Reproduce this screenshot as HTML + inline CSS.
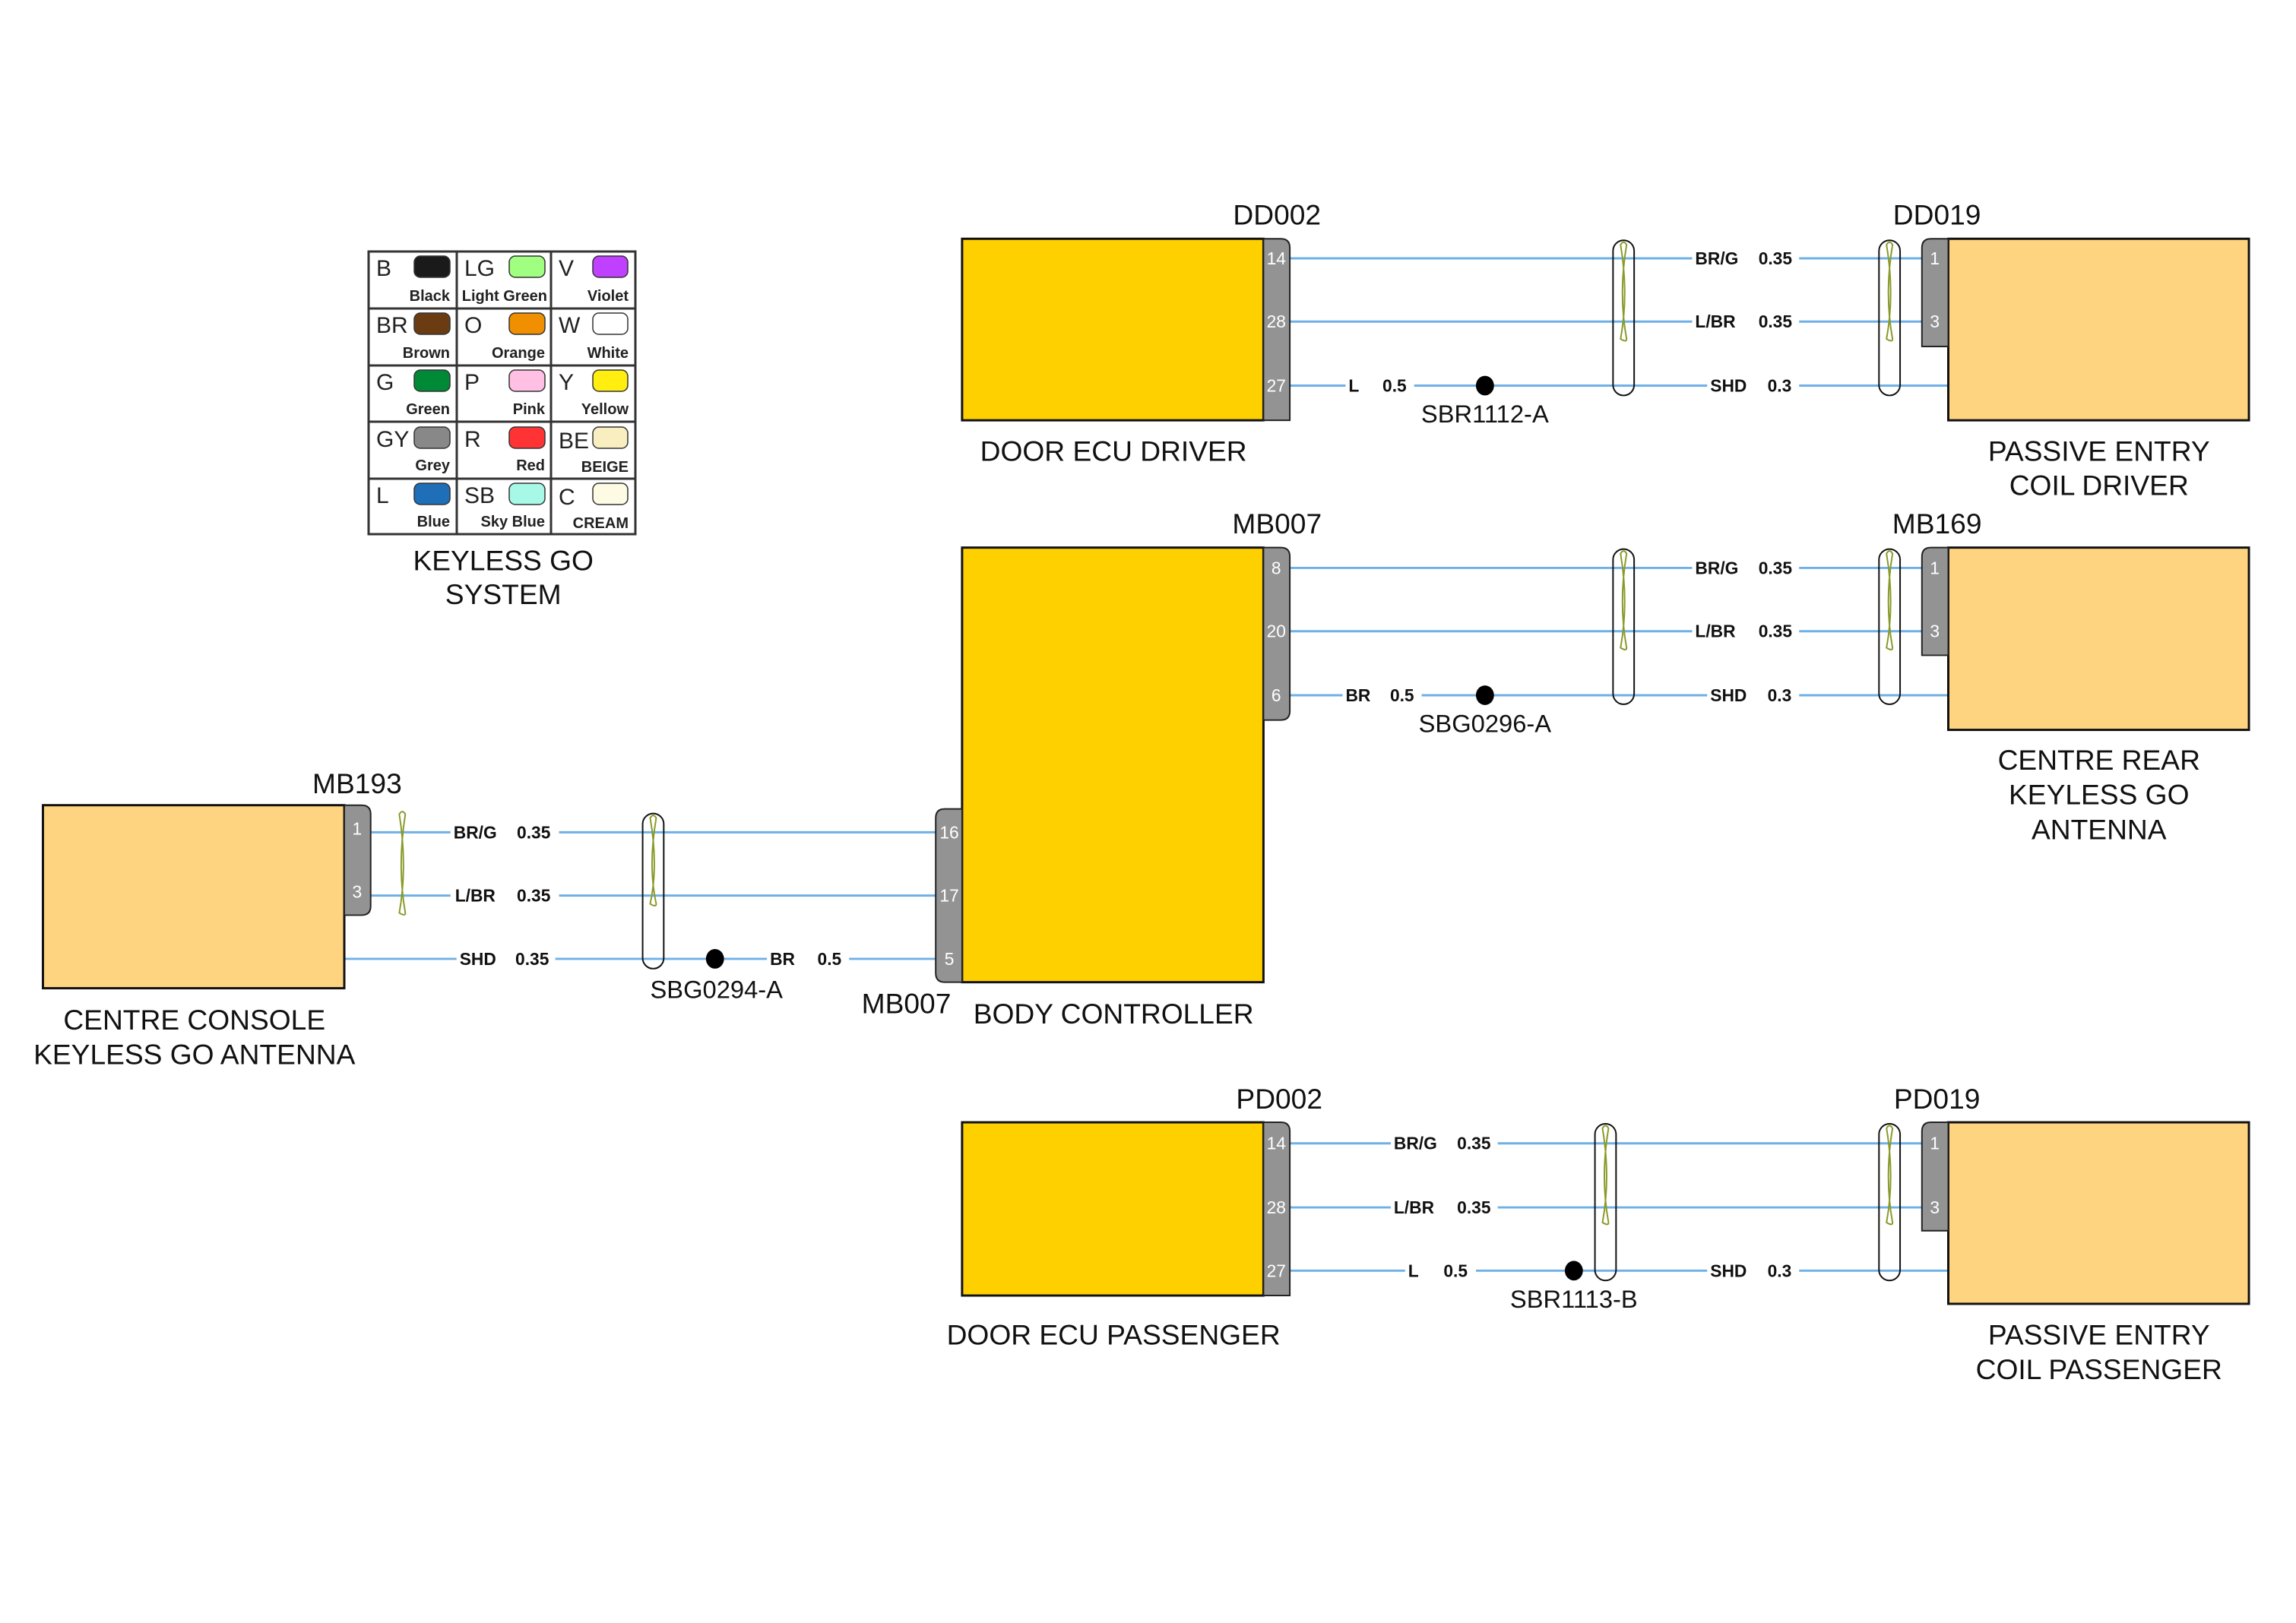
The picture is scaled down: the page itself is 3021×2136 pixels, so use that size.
<!DOCTYPE html>
<html><head><meta charset="utf-8"><style>
html,body{margin:0;padding:0;background:#fff}
svg{display:block}
text{font-family:"Liberation Sans",sans-serif}
.big{font-size:37.5px;fill:#111}
.pin{font-size:23px;fill:#fff}
.wl{font-size:23px;font-weight:bold;fill:#111}
.code{font-size:30px;fill:#222}
.nm{font-size:20px;font-weight:bold;fill:#222}
</style></head><body>
<svg width="3021" height="2136" viewBox="0 0 3021 2136" xmlns="http://www.w3.org/2000/svg">
<!-- Legend (unscaled) -->
<g transform="translate(2,2)">
<g stroke="#333" stroke-width="3" fill="none">
<rect x="483" y="329" width="351" height="372"/>
<line x1="599" y1="329" x2="599" y2="701"/><line x1="723" y1="329" x2="723" y2="701"/>
<line x1="483" y1="404" x2="834" y2="404"/><line x1="483" y1="479" x2="834" y2="479"/>
<line x1="483" y1="553" x2="834" y2="553"/><line x1="483" y1="628" x2="834" y2="628"/>
</g>
<g stroke="#333" stroke-width="1.5">
<rect x="543" y="335" width="47" height="28" rx="8" fill="#1a1a1a"/>
<rect x="668" y="335" width="47" height="28" rx="8" fill="#a0ff80"/>
<rect x="778" y="335" width="46" height="28" rx="8" fill="#c040ff"/>
<rect x="543" y="410" width="47" height="28" rx="8" fill="#6b3c12"/>
<rect x="668" y="410" width="47" height="28" rx="8" fill="#f09000"/>
<rect x="778" y="410" width="46" height="28" rx="8" fill="#fff"/>
<rect x="543" y="485" width="47" height="28" rx="8" fill="#008a38"/>
<rect x="668" y="485" width="47" height="28" rx="8" fill="#ffc0e4"/>
<rect x="778" y="485" width="46" height="28" rx="8" fill="#ffee10"/>
<rect x="543" y="560" width="47" height="28" rx="8" fill="#888"/>
<rect x="668" y="560" width="47" height="28" rx="8" fill="#ff3333"/>
<rect x="778" y="560" width="46" height="28" rx="8" fill="#f8eec0"/>
<rect x="543" y="634" width="47" height="28" rx="8" fill="#1e6eb8"/>
<rect x="668" y="634" width="47" height="28" rx="8" fill="#a8f8e8"/>
<rect x="778" y="634" width="46" height="28" rx="8" fill="#fdfbe4"/>
</g>
<g class="code">
<text x="493" y="361" class="code">B</text><text x="609" y="361" class="code">LG</text><text x="733" y="361" class="code">V</text>
<text x="493" y="436" class="code">BR</text><text x="609" y="436" class="code">O</text><text x="733" y="436" class="code">W</text>
<text x="493" y="511" class="code">G</text><text x="609" y="511" class="code">P</text><text x="733" y="511" class="code">Y</text>
<text x="493" y="586" class="code">GY</text><text x="609" y="586" class="code">R</text><text x="733" y="588" class="code">BE</text>
<text x="493" y="660" class="code">L</text><text x="609" y="660" class="code">SB</text><text x="733" y="662" class="code">C</text>
</g>
<g text-anchor="end">
<text x="590" y="394" class="nm">Black</text><text x="718" y="394" class="nm">Light Green</text><text x="825" y="394" class="nm">Violet</text>
<text x="590" y="469" class="nm">Brown</text><text x="715" y="469" class="nm">Orange</text><text x="825" y="469" class="nm">White</text>
<text x="590" y="543" class="nm">Green</text><text x="715" y="543" class="nm">Pink</text><text x="825" y="543" class="nm">Yellow</text>
<text x="590" y="617" class="nm">Grey</text><text x="715" y="617" class="nm">Red</text><text x="825" y="619" class="nm">BEIGE</text>
<text x="590" y="691" class="nm">Blue</text><text x="715" y="691" class="nm">Sky Blue</text><text x="825" y="693" class="nm">CREAM</text>
</g>
</g>
<g transform="scale(0.9913)">
<g text-anchor="middle" class="big">
<text x="668" y="757" class="big">KEYLESS GO</text><text x="668" y="802" class="big">SYSTEM</text>
</g>

<!-- Wires -->
<g stroke="#6fb0e6" stroke-width="3">
<line x1="1712" y1="343" x2="2551" y2="343"/><line x1="1712" y1="427" x2="2551" y2="427"/><line x1="1712" y1="512" x2="2586" y2="512"/>
<line x1="1712" y1="754" x2="2551" y2="754"/><line x1="1712" y1="838" x2="2551" y2="838"/><line x1="1712" y1="923" x2="2586" y2="923"/>
<line x1="492" y1="1105" x2="1242" y2="1105"/><line x1="492" y1="1189" x2="1242" y2="1189"/><line x1="457" y1="1273" x2="1242" y2="1273"/>
<line x1="1712" y1="1518" x2="2551" y2="1518"/><line x1="1712" y1="1603" x2="2551" y2="1603"/><line x1="1712" y1="1687" x2="2586" y2="1687"/>
</g>

<!-- Boxes -->
<g stroke="#111" stroke-width="3">
<rect x="1277" y="317" width="400" height="241" fill="#ffd000"/>
<rect x="1277" y="727" width="400" height="577" fill="#ffd000"/>
<rect x="1277" y="1490" width="400" height="230" fill="#ffd000"/>
<rect x="2586" y="317" width="399" height="241" fill="#ffd480"/>
<rect x="2586" y="727" width="399" height="242" fill="#ffd480"/>
<rect x="2586" y="1490" width="399" height="241" fill="#ffd480"/>
<rect x="57" y="1069" width="400" height="243" fill="#ffd480"/>
</g>
<!-- Connectors -->
<g fill="#939393" stroke="#222" stroke-width="2">
<path d="M1677 317 H1700 Q1712 317 1712 329 V558 H1677 Z"/>
<path d="M1677 727 H1700 Q1712 727 1712 739 V944 Q1712 956 1700 956 H1677 Z"/>
<path d="M1677 1490 H1700 Q1712 1490 1712 1502 V1720 H1677 Z"/>
<path d="M1277 1074 H1254 Q1242 1074 1242 1086 V1292 Q1242 1304 1254 1304 H1277 Z"/>
<path d="M2586 317 H2563 Q2551 317 2551 329 V460 H2586 Z"/>
<path d="M2586 727 H2563 Q2551 727 2551 739 V870 H2586 Z"/>
<path d="M2586 1490 H2563 Q2551 1490 2551 1502 V1634 H2586 Z"/>
<path d="M457 1069 H480 Q492 1069 492 1081 V1203 Q492 1215 480 1215 H457 Z"/>
</g>
<g class="pin" text-anchor="middle">
<text x="1694" y="351" class="pin">14</text><text x="1694" y="435" class="pin">28</text><text x="1694" y="520" class="pin">27</text>
<text x="1694" y="762" class="pin">8</text><text x="1694" y="846" class="pin">20</text><text x="1694" y="931" class="pin">6</text>
<text x="1694" y="1526" class="pin">14</text><text x="1694" y="1611" class="pin">28</text><text x="1694" y="1695" class="pin">27</text>
<text x="1260" y="1113" class="pin">16</text><text x="1260" y="1197" class="pin">17</text><text x="1260" y="1281" class="pin">5</text>
<text x="2568" y="351" class="pin">1</text><text x="2568" y="435" class="pin">3</text>
<text x="2568" y="762" class="pin">1</text><text x="2568" y="846" class="pin">3</text>
<text x="2568" y="1526" class="pin">1</text><text x="2568" y="1611" class="pin">3</text>
<text x="474" y="1108" class="pin">1</text><text x="474" y="1192" class="pin">3</text>
</g>

<!-- Shields -->
<g fill="none" stroke="#111" stroke-width="2">
<rect x="2141" y="319" width="28" height="206" rx="14"/>
<rect x="2494" y="319" width="28" height="206" rx="14"/>
<rect x="2141" y="729" width="28" height="206" rx="14"/>
<rect x="2494" y="729" width="28" height="206" rx="14"/>
<rect x="853" y="1080" width="28" height="206" rx="14"/>
<rect x="2117" y="1492" width="28" height="208" rx="14"/>
<rect x="2494" y="1492" width="28" height="208" rx="14"/>
</g>
<!-- twisted pairs -->
<g fill="none" stroke="#8a9a2a" stroke-width="2">
<path d="M2151 325 Q2162 390 2151 450 Q2159 455 2159 450 Q2148 390 2159 325 Q2155 318 2151 325 Z"/>
<path d="M2504 325 Q2515 390 2504 450 Q2512 455 2512 450 Q2501 390 2512 325 Q2508 318 2504 325 Z"/>
<path d="M2151 735 Q2162 800 2151 860 Q2159 865 2159 860 Q2148 800 2159 735 Q2155 728 2151 735 Z"/>
<path d="M2504 735 Q2515 800 2504 860 Q2512 865 2512 860 Q2501 800 2512 735 Q2508 728 2504 735 Z"/>
<path d="M2127 1498 Q2138 1563 2127 1623 Q2135 1628 2135 1623 Q2124 1563 2135 1498 Q2131 1491 2127 1498 Z"/>
<path d="M2504 1498 Q2515 1563 2504 1623 Q2512 1628 2512 1623 Q2501 1563 2512 1498 Q2508 1491 2504 1498 Z"/>
<path d="M863 1086 Q874 1150 863 1200 Q871 1205 871 1200 Q860 1150 871 1086 Q867 1079 863 1086 Z"/>
<path d="M530 1081 Q541 1150 530 1212 Q538 1217 538 1212 Q527 1150 538 1081 Q534 1074 530 1081 Z"/>
</g>

<!-- splices -->
<g fill="#000">
<ellipse cx="1971" cy="512" rx="12" ry="13"/>
<ellipse cx="1971" cy="923" rx="12" ry="13"/>
<ellipse cx="949" cy="1273" rx="12" ry="13"/>
<ellipse cx="2089" cy="1687" rx="12" ry="13"/>
</g>

<!-- wire labels -->
<g fill="#fff">
<rect x="2246" y="328" width="142" height="30"/><rect x="2246" y="412" width="142" height="30"/><rect x="2266" y="497" width="122" height="30"/><rect x="1786" y="497" width="91" height="30"/>
<rect x="2246" y="739" width="142" height="30"/><rect x="2246" y="823" width="142" height="30"/><rect x="2266" y="908" width="122" height="30"/><rect x="1782" y="908" width="105" height="30"/>
<rect x="598" y="1090" width="144" height="30"/><rect x="598" y="1174" width="144" height="30"/><rect x="606" y="1258" width="131" height="30"/><rect x="1018" y="1258" width="109" height="30"/>
<rect x="1846" y="1503" width="142" height="30"/><rect x="1846" y="1588" width="142" height="30"/><rect x="1865" y="1672" width="94" height="30"/><rect x="2266" y="1672" width="122" height="30"/>
</g>
<g class="wl">
<text x="2250" y="351" class="wl">BR/G</text><text x="2334" y="351" class="wl">0.35</text>
<text x="2250" y="435" class="wl">L/BR</text><text x="2334" y="435" class="wl">0.35</text>
<text x="2270" y="520" class="wl">SHD</text><text x="2346" y="520" class="wl">0.3</text>
<text x="1790" y="520" class="wl">L</text><text x="1835" y="520" class="wl">0.5</text>
<text x="2250" y="762" class="wl">BR/G</text><text x="2334" y="762" class="wl">0.35</text>
<text x="2250" y="846" class="wl">L/BR</text><text x="2334" y="846" class="wl">0.35</text>
<text x="2270" y="931" class="wl">SHD</text><text x="2346" y="931" class="wl">0.3</text>
<text x="1786" y="931" class="wl">BR</text><text x="1845" y="931" class="wl">0.5</text>
<text x="602" y="1113" class="wl">BR/G</text><text x="686" y="1113" class="wl">0.35</text>
<text x="604" y="1197" class="wl">L/BR</text><text x="686" y="1197" class="wl">0.35</text>
<text x="610" y="1281" class="wl">SHD</text><text x="684" y="1281" class="wl">0.35</text>
<text x="1022" y="1281" class="wl">BR</text><text x="1085" y="1281" class="wl">0.5</text>
<text x="1850" y="1526" class="wl">BR/G</text><text x="1934" y="1526" class="wl">0.35</text>
<text x="1850" y="1611" class="wl">L/BR</text><text x="1934" y="1611" class="wl">0.35</text>
<text x="1869" y="1695" class="wl">L</text><text x="1916" y="1695" class="wl">0.5</text>
<text x="2270" y="1695" class="wl">SHD</text><text x="2346" y="1695" class="wl">0.3</text>
</g>

<!-- big labels -->
<g class="big" text-anchor="middle">
<text x="1695" y="298" class="big">DD002</text>
<text x="2571" y="298" class="big">DD019</text>
<text x="1971" y="561" class="big" style="font-size:33px">SBR1112-A</text>
<text x="1478" y="612" class="big">DOOR ECU DRIVER</text>
<text x="2786" y="612" class="big">PASSIVE ENTRY</text>
<text x="2786" y="657" class="big">COIL DRIVER</text>
<text x="1695" y="708" class="big">MB007</text>
<text x="2571" y="708" class="big">MB169</text>
<text x="1971" y="972" class="big" style="font-size:33px">SBG0296-A</text>
<text x="2786" y="1022" class="big">CENTRE REAR</text>
<text x="2786" y="1068" class="big">KEYLESS GO</text>
<text x="2786" y="1114" class="big">ANTENNA</text>
<text x="474" y="1053" class="big">MB193</text>
<text x="951" y="1325" class="big" style="font-size:33px">SBG0294-A</text>
<text x="1203" y="1345" class="big">MB007</text>
<text x="1478" y="1359" class="big">BODY CONTROLLER</text>
<text x="258" y="1367" class="big">CENTRE CONSOLE</text>
<text x="258" y="1413" class="big">KEYLESS GO ANTENNA</text>
<text x="1698" y="1472" class="big">PD002</text>
<text x="2571" y="1472" class="big">PD019</text>
<text x="2089" y="1736" class="big" style="font-size:33px">SBR1113-B</text>
<text x="1478" y="1785" class="big">DOOR ECU PASSENGER</text>
<text x="2786" y="1785" class="big">PASSIVE ENTRY</text>
<text x="2786" y="1831" class="big">COIL PASSENGER</text>
</g>
</g>
</svg>
</body></html>
